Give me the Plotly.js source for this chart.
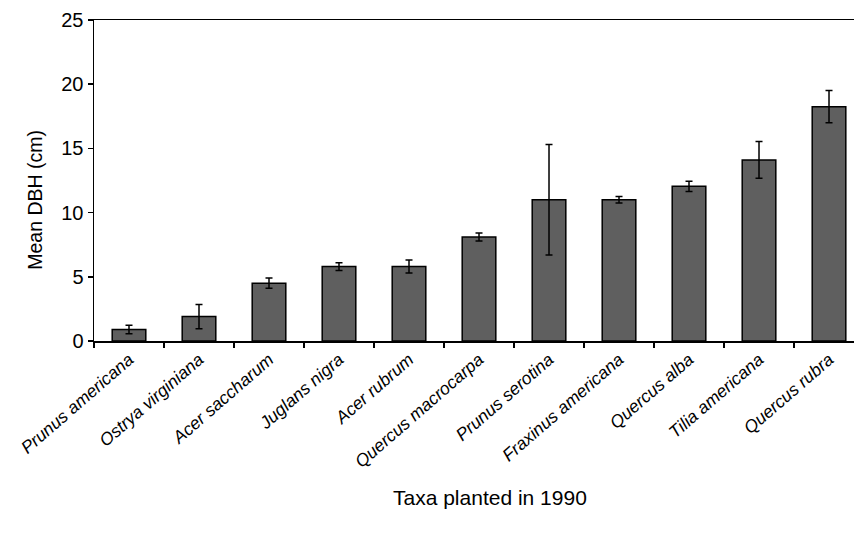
<!DOCTYPE html>
<html>
<head>
<meta charset="utf-8">
<script src="https://cdn.plot.ly/plotly-3.0.1.min.js"></script>
<style>html,body{margin:0;padding:0;background:#fff;}#chart{width:854px;height:535px;}</style>
</head>
<body>
<div id="chart"></div>
<script>
var taxa = ["Prunus americana","Ostrya virginiana","Acer saccharum","Juglans nigra","Acer rubrum","Quercus macrocarpa","Prunus serotina","Fraxinus americana","Quercus alba","Tilia americana","Quercus rubra"];
var meanDBH = [0.9, 1.9, 4.5, 5.8, 5.8, 8.1, 11.0, 11.0, 12.05, 14.1, 18.25];
var stdErr = [0.33, 0.95, 0.4, 0.3, 0.5, 0.32, 4.3, 0.26, 0.4, 1.43, 1.25];
var yTicks = [0, 5, 10, 15, 20, 25];
var xTitle = "Taxa planted in 1990";
var yTitle = "Mean DBH (cm)";

var fontFam = "Liberation Sans, Arial, Helvetica, sans-serif";
var trace = {
  type: "bar",
  x: taxa,
  y: meanDBH,
  marker: {color: "#5f5f5f", line: {color: "#000000", width: 1.5}},
  error_y: {type: "data", array: stdErr, visible: true, color: "#000000", thickness: 1.5, width: 3.5},
  hoverinfo: "x+y"
};
var layout = {
  width: 854, height: 535,
  margin: {l: 94, r: 0, t: 20, b: 194},
  paper_bgcolor: "#ffffff", plot_bgcolor: "#ffffff",
  bargap: 0.52,
  showlegend: false,
  font: {family: fontFam, color: "#000000", size: 18},
  xaxis: {
    type: "category",
    range: [-0.5, 10.357],
    tickson: "boundaries",
    ticks: "outside", ticklen: 5, tickwidth: 1.5, tickcolor: "#000",
    showline: true, linecolor: "#000", linewidth: 1.5, mirror: true,
    showgrid: false, zeroline: false,
    tickangle: -41,
    tickfont: {family: fontFam, size: 17.5, style: "italic", color: "#000"}
  },
  yaxis: {
    range: [0, 25],
    tickvals: yTicks,
    ticktext: yTicks.map(String),
    ticks: "outside", ticklen: 5, tickwidth: 1.5, tickcolor: "#000",
    showline: true, linecolor: "#000", linewidth: 1.5, mirror: false,
    showgrid: false, zeroline: false,
    tickfont: {family: fontFam, size: 20, color: "#000"}
  },
  annotations: [
    {text: xTitle, xref: "paper", yref: "paper", x: 0.521, y: -0.486, xanchor: "center", yanchor: "middle",
     showarrow: false, font: {family: fontFam, size: 21, color: "#000"}},
    {text: yTitle, xref: "paper", yref: "paper", x: -0.0776, y: 0.44, xanchor: "center", yanchor: "middle",
     textangle: -90, showarrow: false, font: {family: fontFam, size: 19.5, color: "#000"}}
  ]
};
Plotly.newPlot("chart", [trace], layout, {displayModeBar: false, staticPlot: true});
</script>
</body>
</html>
